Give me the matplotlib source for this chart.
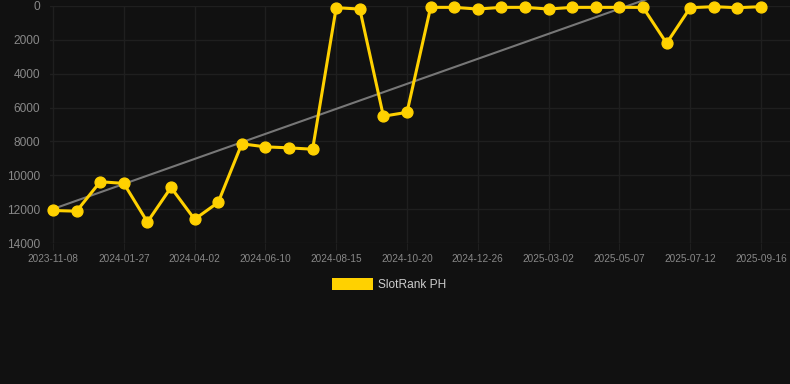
import matplotlib
matplotlib.use("Agg")
import matplotlib.pyplot as plt
from matplotlib.patches import Rectangle
import numpy as np

values = [12080, 12120, 10380, 10480, 12760, 10720, 12600, 11600, 8140, 8320,
          8380, 8460, 100, 180, 6510, 6280, 80, 80, 180, 80,
          80, 180, 80, 80, 80, 80, 2200, 100, 40, 100, 40]
tick_labels = ["2023-11-08", "2024-01-27", "2024-04-02", "2024-06-10", "2024-08-15",
               "2024-10-20", "2024-12-26", "2025-03-02", "2025-05-07", "2025-07-12",
               "2025-09-16"]
series_name = "SlotRank PH"

W, H = 790, 384
bg = "#111111"
fig = plt.figure(figsize=(W / 100, H / 100), dpi=100, facecolor=bg)

left, right, top, bottom = 50, 790, 6, 243
ax = fig.add_axes([left / W, 1 - bottom / H, (right - left) / W, (bottom - top) / H])
ax.set_facecolor(bg)

x = np.arange(len(values))
step = 23.6
ax.set_xlim(-3 / step, (len(values) - 1) + 29 / step)
ax.set_ylim(14000, 0)

# grid
grid_c = "#1f1f1f"
ax.set_yticks(np.arange(0, 14001, 2000))
ax.set_xticks(x[::3])
ax.set_xticklabels(tick_labels)
ax.grid(True, color=grid_c, linewidth=1)
for s in ax.spines.values():
    s.set_visible(False)
ax.tick_params(axis="y", length=0, pad=7, labelsize=8.6, labelcolor="#888888")
ax.tick_params(axis="x", length=5, color=grid_c, pad=3, labelsize=7.2, labelcolor="#888888")
for lab in ax.get_xticklabels() + ax.get_yticklabels():
    lab.set_fontfamily("Liberation Sans")

# trend line
coef = np.polyfit(x, values, 1)
ax.plot(x, np.polyval(coef, x), color="#777777", linewidth=1.5, clip_on=False, zorder=2)

# series
gold = "#FFD100"
ax.plot(x, values, color=gold, linewidth=2.2, marker="o", markersize=7.8,
        markerfacecolor=gold, markeredgecolor=gold, clip_on=False, zorder=3)

# legend
fig.patches.append(Rectangle((332 / W, 1 - 290 / H), 41 / W, 12 / H,
                             transform=fig.transFigure, facecolor=gold, edgecolor="none"))
fig.text(378 / W, 1 - 284.5 / H, series_name, color="#cccccc", fontsize=8.6,
         fontfamily="Liberation Sans", va="center", ha="left")

fig.savefig("out.png", dpi=100, facecolor=bg)
